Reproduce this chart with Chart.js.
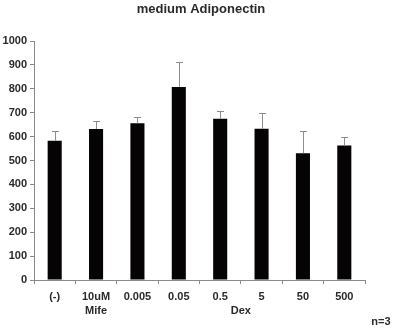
<!DOCTYPE html>
<html>
<head>
<meta charset="utf-8">
<script src="https://cdn.jsdelivr.net/npm/chart.js@4"></script>
<style>
  html, body { margin: 0; padding: 0; background: #fff; }
  #wrap { width: 393px; height: 333px; position: relative; }
</style>
</head>
<body>
<div id="wrap"><canvas id="chart"></canvas></div>
<script>
// ── DATA ──
const labels   = ['(-)', '10uM', '0.005', '0.05', '0.5', '5', '50', '500'];
const means    = [583, 632, 656, 808, 675, 633, 530, 563];
const errUpper = [622, 664, 681, 912, 706, 697, 625, 597];
const groupLabels = [
  { text: 'Mife', from: 1, to: 1 },
  { text: 'Dex',  from: 2, to: 7 },
];
const TITLE = 'medium Adiponectin';
const NOTE  = 'n=3';

const FONT = "'Liberation Sans', Arial, sans-serif";
const TEXT = '#2a2a2a';
const AXIS = '#8a8a8a';

// ── ERROR BARS + EXTRA TEXT ──
const extras = {
  id: 'extras',
  afterDatasetsDraw(chart) {
    const { ctx, scales: { x, y } } = chart;
    ctx.save();
    ctx.strokeStyle = '#8c8c8c';
    ctx.lineWidth = 1;
    means.forEach((m, i) => {
      const px = Math.round(x.getPixelForValue(i)) + 0.5;
      const y0 = y.getPixelForValue(m);
      const y1 = Math.round(y.getPixelForValue(errUpper[i])) + 0.5;
      ctx.beginPath();
      ctx.moveTo(px, y0);
      ctx.lineTo(px, y1);
      ctx.moveTo(px - 3.5, y1);
      ctx.lineTo(px + 3.5, y1);
      ctx.stroke();
    });

    ctx.fillStyle = TEXT;
    ctx.textAlign = 'center';
    ctx.textBaseline = 'middle';
    ctx.font = `bold 13px ${FONT}`;
    ctx.fillText(TITLE, 201, 9);

    ctx.font = `bold 11px ${FONT}`;
    groupLabels.forEach(g => {
      const cx = (x.getPixelForValue(g.from) + x.getPixelForValue(g.to)) / 2;
      ctx.fillText(g.text, cx, 311);
    });
    ctx.fillText(NOTE, 381, 322);
    ctx.restore();
  },
};

new Chart(document.getElementById('chart'), {
  type: 'bar',
  data: {
    labels,
    datasets: [{
      data: means,
      backgroundColor: '#050303',
      borderWidth: 0,
      barPercentage: 0.34,
      categoryPercentage: 1.0,
    }],
  },
  options: {
    responsive: true,
    maintainAspectRatio: false,
    animation: false,
    layout: { padding: { top: 41, right: 28, left: 0, bottom: 0 } },
    plugins: {
      legend: { display: false },
      title: { display: false },
      tooltip: { enabled: false },
    },
    scales: {
      x: {
        afterFit: s => { s.height = 53; },
        grid: {
          offset: true,
          drawOnChartArea: false,
          drawTicks: true,
          tickLength: 4,
          color: AXIS,
        },
        border: { color: AXIS, width: 1 },
        ticks: {
          color: TEXT,
          font: { family: FONT, size: 11, weight: 'bold' },
          padding: 6,
          maxRotation: 0,
          autoSkip: false,
        },
      },
      y: {
        min: 0,
        max: 1000,
        afterFit: s => { s.width = 34; },
        grid: {
          drawOnChartArea: false,
          drawTicks: true,
          tickLength: 4,
          color: AXIS,
        },
        border: { color: AXIS, width: 1 },
        ticks: {
          stepSize: 100,
          color: TEXT,
          font: { family: FONT, size: 11, weight: 'bold' },
          padding: 3,
          callback: v => String(v),
        },
      },
    },
  },
  plugins: [extras],
});
</script>
</body>
</html>
